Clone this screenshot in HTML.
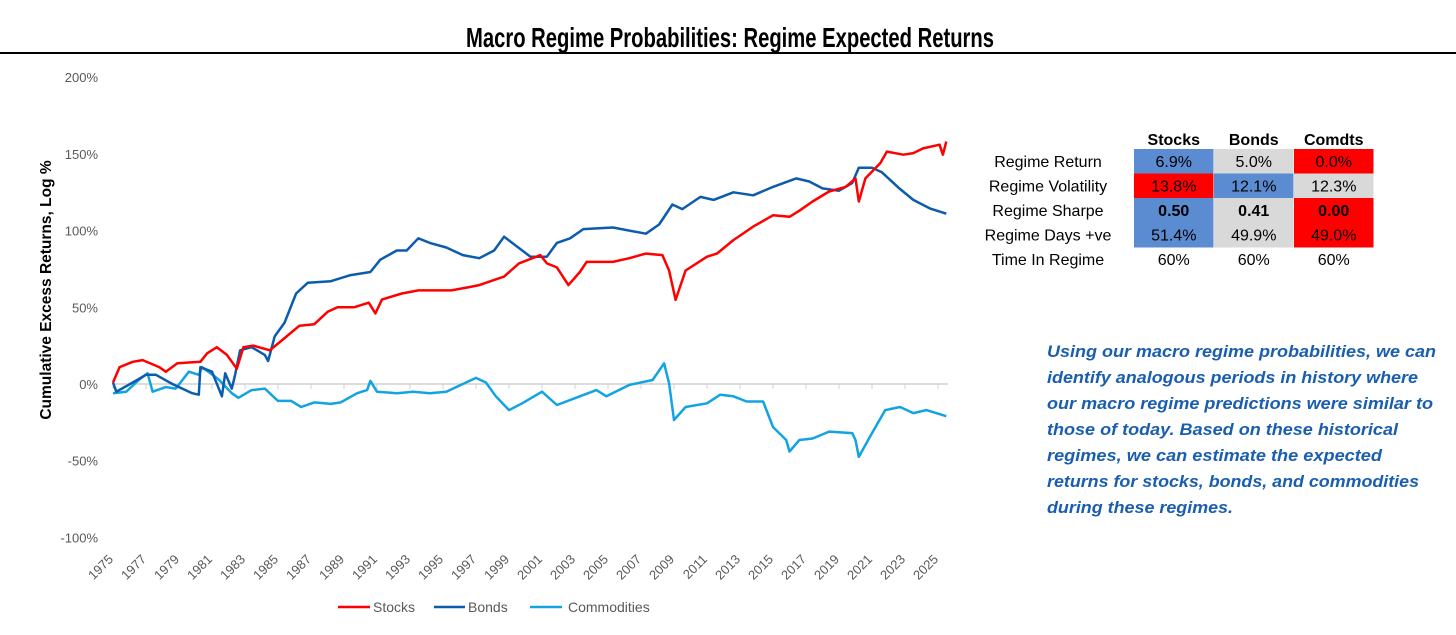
<!DOCTYPE html>
<html><head><meta charset="utf-8"><style>
html,body{margin:0;padding:0;background:#fff;}
svg{display:block;font-family:"Liberation Sans",sans-serif;}
</style></head><body>
<svg id="chart" width="1456" height="635" viewBox="0 0 1456 635" xmlns="http://www.w3.org/2000/svg">
<text x="730" y="47" text-anchor="middle" font-size="28" font-weight="bold" textLength="528" lengthAdjust="spacingAndGlyphs" fill="#000">Macro Regime Probabilities: Regime Expected Returns</text>
<rect x="0" y="52" width="1456" height="2" fill="#000"/>
<g id="yticks"></g>
<g id="xticks"></g>
<g id="series"></g>
<text transform="translate(51,290) rotate(-90)" text-anchor="middle" font-size="15.5" font-weight="bold" fill="#000">Cumulative Excess Returns, Log %</text>
<g>
 <g><line x1="338" y1="607" x2="370" y2="607" stroke="#FF0000" stroke-width="2.5"/><text x="373" y="612" font-size="14" fill="#595959">Stocks</text></g>
 <g><line x1="434" y1="607" x2="465" y2="607" stroke="#0B5CAD" stroke-width="2.5"/><text x="468" y="612" font-size="14" fill="#595959">Bonds</text></g>
 <g><line x1="530" y1="607" x2="562" y2="607" stroke="#12A3E3" stroke-width="2.5"/><text x="568" y="612" font-size="14" fill="#595959">Commodities</text></g>
</g>
<g id="table"></g>
<g fill="#1A5EB0" font-size="17" font-weight="bold" font-style="italic">
<text x="1047" y="357" textLength="389" lengthAdjust="spacingAndGlyphs">Using our macro regime probabilities, we can</text>
<text x="1047" y="383" textLength="371" lengthAdjust="spacingAndGlyphs">identify analogous periods in history where</text>
<text x="1047" y="409" textLength="386" lengthAdjust="spacingAndGlyphs">our macro regime predictions were similar to</text>
<text x="1047" y="435" textLength="351" lengthAdjust="spacingAndGlyphs">those of today. Based on these historical</text>
<text x="1047" y="461" textLength="335" lengthAdjust="spacingAndGlyphs">regimes, we can estimate the expected</text>
<text x="1047" y="487" textLength="372" lengthAdjust="spacingAndGlyphs">returns for stocks, bonds, and commodities</text>
<text x="1047" y="513" textLength="186" lengthAdjust="spacingAndGlyphs">during these regimes.</text>
</g>
</svg>
<script>
const yTicks=[200,150,100,50,0,-50,-100];
const xTickYears=[1975,1977,1979,1981,1983,1985,1987,1989,1991,1993,1995,1997,1999,2001,2003,2005,2007,2009,2011,2013,2015,2017,2019,2021,2023,2025];
const stocksYears=[1975,1975.4,1976.2,1976.8,1977.8,1978.2,1978.9,1980.3,1980.7,1981.3,1981.9,1982.5,1982.9,1983.5,1984.5,1985.3,1986.3,1987.2,1988,1988.6,1989.6,1990.5,1990.9,1991.3,1992.5,1993.5,1995.5,1996.5,1997.2,1998.7,1999.6,2000.9,2001.3,2001.9,2002.6,2003.3,2003.7,2005.3,2006.3,2007.3,2008.3,2008.7,2009.1,2009.7,2011,2011.6,2012.6,2013.8,2015,2016,2016.6,2017.4,2018.4,2019.4,2020,2020.2,2020.6,2021.5,2021.9,2022.9,2023.5,2024.1,2025.1,2025.3,2025.5];
const stocksValues=[1,11,14.5,15.6,11,8,13.5,14.5,20,24,19,10,24,25,22,29,38,39,47,50,50,53,46,55,59,61,61,63,64.5,70,78.6,84,78.6,76,64.5,73,79.6,79.6,82,85,84,74,54.8,74,83,85,93.8,102.6,110,109,113,119,125.5,128.5,134,119,134,144,151.5,149.5,150.5,153.6,156,149.5,158];
const bondsYears=[1975,1975.2,1976.2,1977,1977.6,1978.6,1979.8,1980.2,1980.3,1981,1981.6,1981.8,1982.2,1982.4,1982.7,1983.4,1984.2,1984.4,1984.8,1985.4,1986.1,1986.8,1988.2,1989.4,1990.6,1991.2,1992.2,1992.8,1993.5,1994.2,1995.2,1996.2,1997.2,1998.1,1998.7,2000.3,2001.3,2001.9,2002.7,2003.5,2005.3,2007.3,2008.1,2008.9,2009.5,2010.6,2011.4,2012.6,2013.8,2015,2016.4,2017.2,2018,2019,2019.8,2020.2,2021,2021.6,2022.6,2023.5,2024.5,2025.5];
const bondsValues=[1,-5,1,6,6,0,-6,-7,11,8,-8,7,-3,6,22,24,19,15,31,40,59,66,67,71,73,81,87,87,95,92,89,84,82,87,96,83,83,92,95,101,102,98,104,117,114,122,120,125,123,128.5,134,132,127.5,126,131,141,141,138,128,120,114.5,111];
const commYears=[1975,1975.8,1976.6,1977.1,1977.4,1978.2,1978.8,1979.6,1980.2,1980.4,1981.4,1982.2,1982.6,1983.4,1984.2,1985,1985.8,1986.4,1987.2,1988.2,1988.8,1989.8,1990.4,1990.6,1991,1992.2,1993.2,1994.2,1995.2,1996.2,1997,1997.6,1998.2,1999,1999.8,2001,2001.9,2003.3,2004.3,2004.9,2006.3,2007.7,2008.4,2008.7,2009,2009.7,2011,2011.8,2012.6,2013.4,2014.4,2015,2015.8,2016,2016.6,2017.4,2018.4,2019.8,2020,2020.2,2021,2021.8,2022.7,2023.5,2024.3,2025.5];
const commValues=[-6,-5,3,7,-5,-2,-3,8,6,11,3,-6,-9,-4,-3,-11,-11,-15,-12,-13,-12,-6,-4,2,-5,-6,-5,-6,-5,0,4,1,-8,-17,-12.6,-5,-13.7,-8,-4,-8,-0.6,2.6,13.5,0.4,-23.5,-15,-12.6,-7,-8,-11.4,-11.4,-28,-36.5,-44,-36.5,-35.5,-31,-32,-36.5,-47.5,-32,-17,-15,-19,-17,-21];
const tableCols=["Stocks","Bonds","Comdts"];
const tableRows=["Regime Return","Regime Volatility","Regime Sharpe","Regime Days +ve","Time In Regime"];
const tableValues=[["6.9%","5.0%","0.0%"],["13.8%","12.1%","12.3%"],["0.50","0.41","0.00"],["51.4%","49.9%","49.0%"],["60%","60%","60%"]];
const tableColors=[["#5B8BD0","#D9D9D9","#FF0000"],["#FF0000","#5B8BD0","#D9D9D9"],["#5B8BD0","#D9D9D9","#FF0000"],["#5B8BD0","#D9D9D9","#FF0000"],["none","none","none"]];

const NS="http://www.w3.org/2000/svg";
function el(tag,attrs,parent){const e=document.createElementNS(NS,tag);for(const k in attrs)e.setAttribute(k,attrs[k]);parent.appendChild(e);return e;}
const X=y=>113+(y-1975)*16.5;
const Y=v=>384-v*1.534;

const yg=document.getElementById('yticks');
yTicks.forEach(v=>{const t=el('text',{x:98,y:Y(v)+5,'text-anchor':'end','font-size':13,fill:'#595959'},yg);t.textContent=v+'%';

});
const xg=document.getElementById('xticks');
const ax=el('line',{x1:113,y1:Y(0),x2:948,y2:Y(0),stroke:'#D0D0D0','stroke-width':1.5},xg);


xTickYears.forEach(yr=>{const x=X(yr);
el('line',{x1:x,y1:Y(0),x2:x,y2:Y(0)+5,stroke:'#D0D0D0'},xg);
const tx=x+1,ty=560;
const t=el('text',{x:tx,y:ty,'text-anchor':'end','font-size':13,fill:'#595959',transform:`rotate(-45 ${tx} ${ty})`},xg);t.textContent=yr;

});
const sg=document.getElementById('series');
function line(ys,vs,color,name){const p=el('polyline',{points:ys.map((y,i)=>X(y).toFixed(1)+','+Y(vs[i]).toFixed(1)).join(' '),fill:'none',stroke:color,'stroke-width':2.5,'stroke-linejoin':'round'},sg);

}
line(commYears,commValues,'#12A3E3','commodities-line');
line(bondsYears,bondsValues,'#0B5CAD','bonds-line');
line(stocksYears,stocksValues,'#FF0000','stocks-line');

const tg=document.getElementById('table');
const colX=[1134,1214,1294],colW=79.5,rowY=[149,173.5,198,222.5,247],rowH=24.5;
tableCols.forEach((c,j)=>{const t=el('text',{x:colX[j]+colW/2,y:145,'text-anchor':'middle','font-size':16,'font-weight':'bold',fill:'#000'},tg);t.textContent=c;

});
tableRows.forEach((r,i)=>{const t=el('text',{x:1048,y:rowY[i]+18,'text-anchor':'middle','font-size':16,fill:'#000'},tg);t.textContent=r;


tableValues[i].forEach((v,j)=>{if(tableColors[i][j]!=='none'){const rc=el('rect',{x:colX[j],y:rowY[i],width:colW,height:rowH+0.5,fill:tableColors[i][j]},tg);

}
const tv=el('text',{x:colX[j]+colW/2,y:rowY[i]+18,'text-anchor':'middle','font-size':16,fill:'#000','font-weight':i===2?'bold':'normal'},tg);tv.textContent=v;

});});
</script>
</body></html>
